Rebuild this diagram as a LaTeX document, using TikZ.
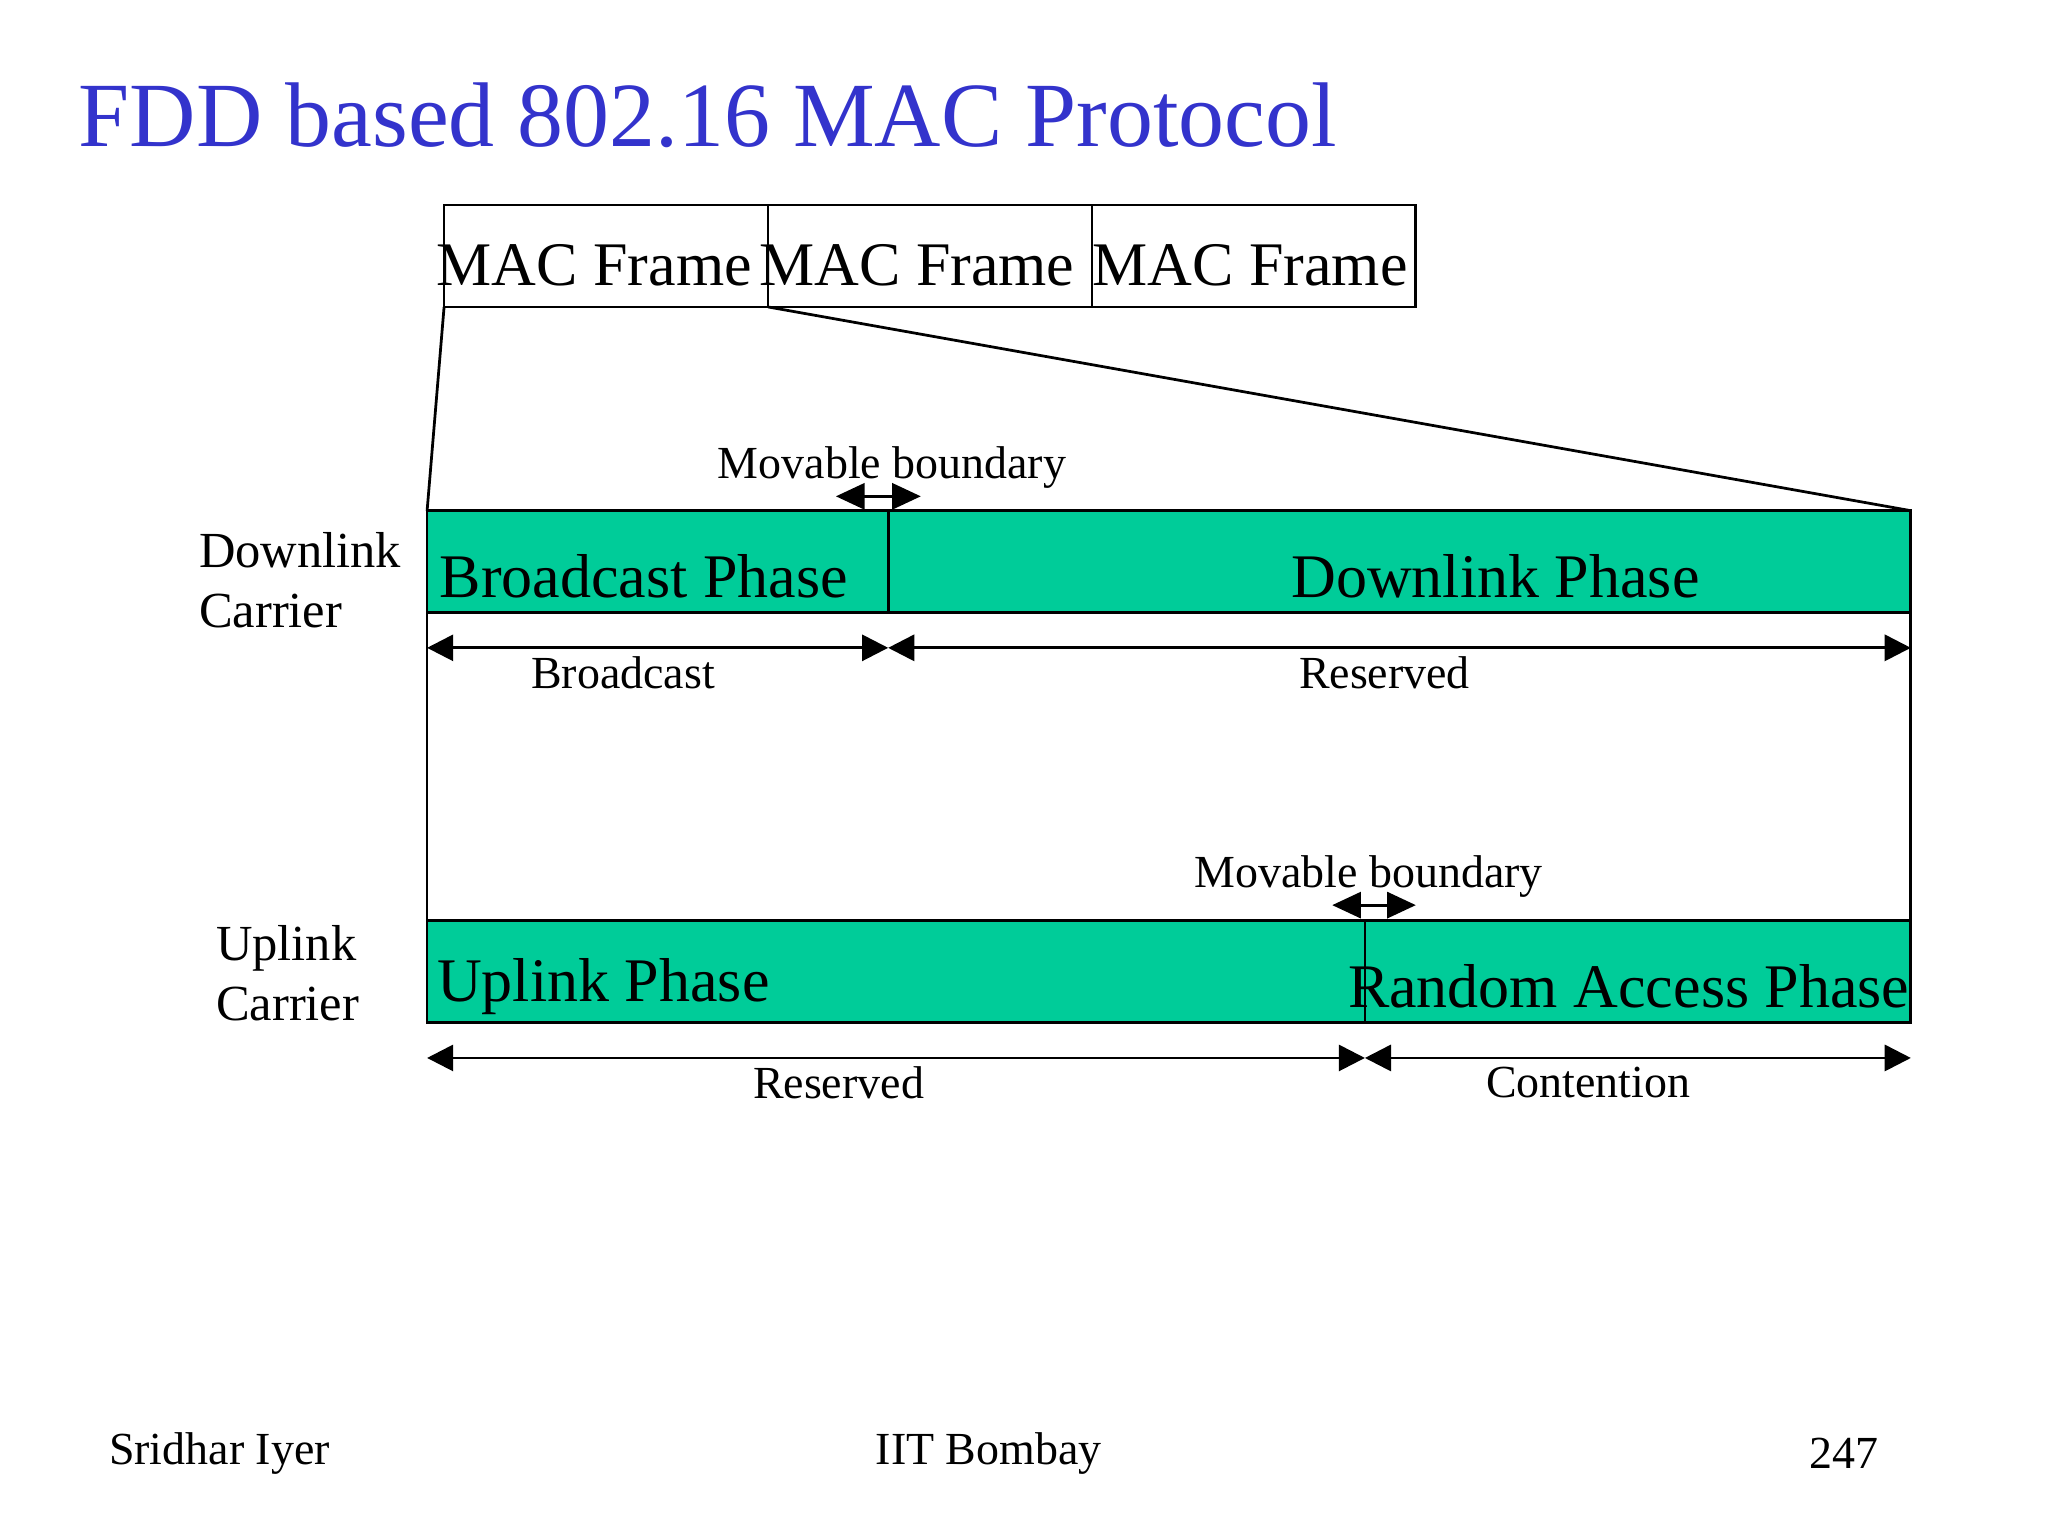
\documentclass[tikz,border=0pt]{standalone}
\usepackage{fontspec}
\setmainfont{Liberation Serif}
\usetikzlibrary{arrows.meta}
\definecolor{ph}{HTML}{00CC99}
\definecolor{tt}{HTML}{3333CC}
\begin{document}
\begin{tikzpicture}[x=0.01cm,y=-0.01cm,
  bar/.style={draw=black,fill=ph,line width=0.6pt},
  box/.style={draw=black,line width=0.6pt},
  dim/.style={line width=0.6pt,{Triangle[length=0.2cm,width=0.2cm]}-{Triangle[length=0.2cm,width=0.2cm]}},
  mv/.style={line width=0.6pt,{Triangle[length=0.22cm,width=0.2cm]}-{Triangle[length=0.22cm,width=0.2cm]}},
  big/.style={font=\fontsize{13.5}{15}\selectfont},
  sm/.style={font=\fontsize{10}{12}\selectfont},
  lab/.style={font=\fontsize{11}{13}\selectfont}]
\useasboundingbox (0,0) rectangle (1568,1176);
\node[anchor=west,text=tt,font=\fontsize{20}{24}\selectfont] (title) at (48,88) {FDD based 802.16 MAC Protocol};
% MAC frames
\draw[box] (340,157) rectangle (588,235);
\draw[box] (588,157) rectangle (836,235);
\draw[box] (836,157) rectangle (1084,235);
\node[big] (m1) at (455,203) {MAC Frame};
\node[big] (m2) at (702,203) {MAC Frame};
\node[big] (m3) at (957,203) {MAC Frame};
\coordinate (f1) at (340,235); \coordinate (f2) at (588,235);
\coordinate (d1) at (327,391); \coordinate (d2) at (1463,391);
\draw[line width=0.6pt] (f1) -- (d1) (f2) -- (d2);
% downlink
\draw[bar] (327,391) rectangle (680,469);
\draw[bar] (680,391) rectangle (1463,469);
\node[big] (bp) at (493,441) {Broadcast Phase};
\node[big] (dp) at (1145,441) {Downlink Phase};
\draw[line width=0.6pt] (327,469) -- (327,705) (1463,469) -- (1463,705);
% uplink
\draw[bar] (327,705) rectangle (1045,783);
\draw[bar] (1045,705) rectangle (1463,783);
\node[big] (up) at (462,755) {Uplink Phase};
\node[big] (ra) at (1247,755) {Random Access Phase};
% dims
\coordinate (a1) at (327,496); \coordinate (a2) at (680,496); \coordinate (a3) at (1463,496);
\draw[dim] (a1) -- (a2); \draw[dim] (a2) -- (a3);
\node[sm] (l1) at (477,515) {Broadcast};
\node[sm] (l2) at (1060,515) {Reserved};
\coordinate (b1) at (327,810); \coordinate (b2) at (1045,810); \coordinate (b3) at (1463,810);
\draw[dim] (b1) -- (b2); \draw[dim] (b2) -- (b3);
\node[sm] (l3) at (642,829) {Reserved};
\node[sm] (l4) at (1216,829) {Contention};
% movable
\node[sm] (mb1) at (683,358) {Movable boundary};
\coordinate (c1) at (640,380); \coordinate (c2) at (705,380);
\draw[mv] (c1) -- (c2);
\node[sm] (mb2) at (1048,671) {Movable boundary};
\coordinate (e1) at (1020,693); \coordinate (e2) at (1084,693);
\draw[mv] (e1) -- (e2);
% side labels
\node[lab,anchor=west,align=left] (dc) at (140,444) {Downlink\\Carrier};
\node[lab,anchor=west,align=left] (uc) at (153,745) {Uplink\\Carrier};
% footer
\node[sm] (f1t) at (168,1113) {Sridhar Iyer};
\node[sm] (f2t) at (757,1113) {IIT Bombay};
\node[sm] (f3t) at (1412,1113) {247};
\end{tikzpicture}
\end{document}
